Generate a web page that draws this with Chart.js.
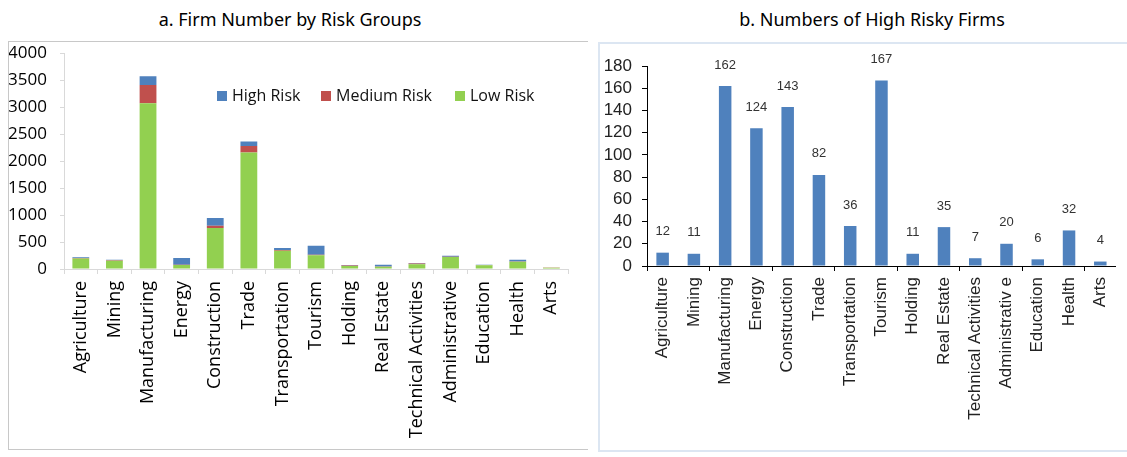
<!DOCTYPE html>
<html>
<head>
<meta charset="utf-8">
<script src="https://cdn.jsdelivr.net/npm/chart.js@4.4.1/dist/chart.umd.min.js"></script>
<style>
  body { margin: 0; background: #fff; width: 1127px; height: 457px; overflow: hidden; position: relative; }
  .title { position: absolute; top: 7px; font-family: "Noto Sans", sans-serif; font-size: 18px; color: #000; text-align: center; white-space: nowrap; }
  #panelA { position: absolute; left: 8px; top: 41px; width: 580px; height: 409px; border: 1px solid #c8c8c8; border-right: none; box-sizing: border-box; }
  #panelB { position: absolute; left: 598px; top: 42px; width: 540px; height: 410px; border: 2px solid #dce6f2; border-right: none; box-sizing: border-box; }
  .box { position: absolute; }
  #legend { position: absolute; top: 85px; left: 217px; font-family: "Open Sans", sans-serif; font-size: 16px; color: #111; white-space: nowrap; }
  #legend span.item { position: absolute; top: 0; }
  #legend i { position: absolute; top: 6px; left: 0; width: 10px; height: 10px; }
  #legend b { position: absolute; top: -1px; font-weight: normal; }
</style>
</head>
<body>
<div class="title" style="left:140px; width:300px;">a. Firm Number by Risk Groups</div>
<div class="title" style="left:722px; width:300px;">b. Numbers of High Risky Firms</div>
<div id="panelA"></div>
<div id="panelB"></div>
<div class="box" style="left:9px; top:42px; width:571px; height:408px;"><canvas id="chartA"></canvas></div>
<div class="box" style="left:600px; top:45px; width:527px; height:404px;"><canvas id="chartB"></canvas></div>
<div id="legend"></div>
<script>
// データ
const sectors = ['Agriculture', 'Mining', 'Manufacturing', 'Energy', 'Construction', 'Trade', 'Transportation',
  'Tourism', 'Holding', 'Real Estate', 'Technical Activities', 'Administrative', 'Education', 'Health', 'Arts'];
const sectorsB = ['Agriculture', 'Mining', 'Manufacturing', 'Energy', 'Construction', 'Trade', 'Transportation',
  'Tourism', 'Holding', 'Real Estate', 'Technical Activities', 'Administrativ e', 'Education', 'Health', 'Arts'];
const lowRisk = [195, 155, 3071, 75, 760, 2157, 338, 255, 55, 40, 90, 222, 70, 132, 24];
const mediumRisk = [10, 6, 337, 6, 40, 122, 14, 9, 8, 5, 14, 4, 4, 8, 2];
const highRisk = [12, 11, 162, 124, 143, 82, 36, 167, 11, 35, 7, 20, 6, 32, 4];

const blue = '#4f81bd';
const red = '#c0504d';
const green = '#92d050';

// 凡例 (HTML)
const legendItems = [['High Risk', blue, 0], ['Medium Risk', red, 104], ['Low Risk', green, 238]];
const legendDiv = document.getElementById('legend');
legendItems.forEach(([name, color, left]) => {
  const s = document.createElement('span');
  s.className = 'item';
  s.style.left = left + 'px';
  s.innerHTML = '<i style="background:' + color + '"></i><b style="left:15px">' + name + '</b>';
  legendDiv.appendChild(s);
});

// 目盛りラベル分の上下余白を消す (layout.padding で位置を決める)
function noTickPad(s) { s.paddingTop = 0; s.paddingBottom = 0; }

// a. 積み上げ棒グラフ
new Chart(document.getElementById('chartA'), {
  type: 'bar',
  data: {
    labels: sectors,
    datasets: [
      { label: 'Low Risk', data: lowRisk, backgroundColor: green },
      { label: 'Medium Risk', data: mediumRisk, backgroundColor: red },
      { label: 'High Risk', data: highRisk, backgroundColor: blue }
    ]
  },
  options: {
    animation: false,
    responsive: true,
    maintainAspectRatio: false,
    layout: { padding: { top: 11, right: 1, left: 0, bottom: 0 } },
    categoryPercentage: 0.5,
    barPercentage: 1,
    plugins: { legend: { display: false }, tooltip: { enabled: false } },
    scales: {
      x: {
        stacked: true,
        afterFit: (s) => { s.height = 181; },
        border: { color: '#d9d9d9' },
        grid: { drawOnChartArea: false, color: '#d9d9d9', tickLength: 5 },
        ticks: { minRotation: 90, maxRotation: 90, autoSkip: false, padding: 7, color: '#000',
          font: { family: 'Open Sans', size: 18 } }
      },
      y: {
        stacked: true,
        min: 0, max: 4000,
        afterFit: (s) => { s.width = 55; noTickPad(s); },
        border: { color: '#d9d9d9' },
        grid: { drawOnChartArea: false, color: '#d9d9d9', tickLength: 4 },
        ticks: { stepSize: 500, padding: 13, color: '#000', autoSkip: false,
          callback: (v) => String(v), font: { family: 'Open Sans', size: 17 } }
      }
    }
  }
});

// b. 値ラベル
const barLabels = {
  id: 'barLabels',
  afterDatasetsDraw(chart) {
    const ctx = chart.ctx;
    const meta = chart.getDatasetMeta(0);
    ctx.save();
    ctx.font = '13px "Liberation Sans"';
    ctx.fillStyle = '#333';
    ctx.textAlign = 'center';
    ctx.textBaseline = 'middle';
    meta.data.forEach((bar, i) => {
      ctx.fillText(highRisk[i], bar.x, bar.y - 21);
    });
    ctx.restore();
  }
};

new Chart(document.getElementById('chartB'), {
  type: 'bar',
  plugins: [barLabels],
  data: {
    labels: sectorsB,
    datasets: [{ label: 'High Risk', data: highRisk, backgroundColor: blue }]
  },
  options: {
    animation: false,
    responsive: true,
    maintainAspectRatio: false,
    layout: { padding: { top: 21, right: 9, left: 0, bottom: 0 } },
    categoryPercentage: 0.4,
    barPercentage: 1,
    plugins: { legend: { display: false }, tooltip: { enabled: false } },
    scales: {
      x: {
        afterFit: (s) => { s.height = 183; },
        border: { color: '#000' },
        grid: {
          drawOnChartArea: false, tickLength: 5,
          color: (c) => (c.index % 2 === 0 ? '#000' : 'rgba(0,0,0,0)') // 2区分ごとに目盛り
        },
        ticks: { minRotation: 90, maxRotation: 90, autoSkip: false, padding: 6, color: '#222',
          font: { family: 'Liberation Sans', size: 17 } }
      },
      y: {
        min: 0, max: 180,
        afterFit: (s) => { s.width = 47; noTickPad(s); },
        border: { color: '#000' },
        grid: { drawOnChartArea: false, color: '#000', tickLength: 5 },
        ticks: { stepSize: 20, padding: 10, color: '#222', autoSkip: false,
          font: { family: 'Liberation Sans', size: 17 } }
      }
    }
  }
});
</script>
</body>
</html>
